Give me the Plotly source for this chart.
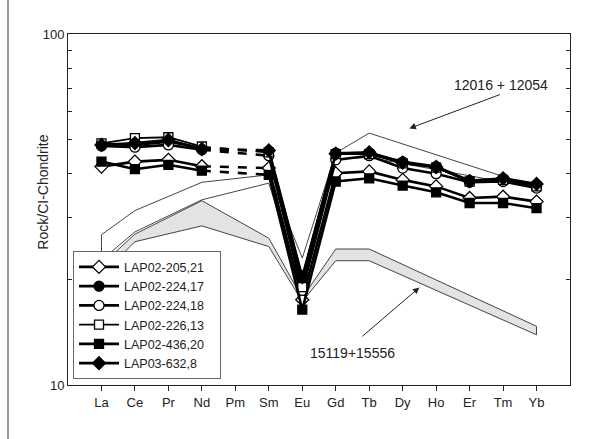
import plotly.graph_objects as go

elements = ["La", "Ce", "Pr", "Nd", "Pm", "Sm", "Eu", "Gd", "Tb", "Dy", "Ho", "Er", "Tm", "Yb"]

# Sample values (Rock / CI-chondrite); None = not determined (Pm)
s_205_21 = [41.9, 43.3, 43.8, 42.0, None, 41.5, 17.5, 40.1, 40.6, 38.4, 36.8, 34.1, 34.4, 33.3]
s_224_17 = [48.6, 48.3, 49.4, 47.3, None, 46.3, 20.0, 45.8, 45.8, 43.2, 41.9, 38.2, 38.6, 37.2]
s_224_18 = [48.0, 47.6, 48.3, 46.8, None, 45.0, 18.6, 43.8, 45.0, 41.5, 40.0, 37.8, 38.0, 36.4]
s_226_13 = [48.8, 50.5, 50.8, 47.8, None, 46.0, 19.0, 45.5, 45.5, 42.8, 41.6, 38.0, 38.4, 36.8]
s_436_20 = [43.3, 41.2, 42.4, 40.8, None, 39.7, 16.4, 38.0, 38.8, 37.0, 35.4, 33.0, 33.0, 31.9]
s_632_8 = [48.3, 48.9, 49.9, 47.0, None, 46.6, 20.3, 45.6, 46.0, 43.0, 41.8, 38.1, 38.8, 37.4]

series_names = ["LAP02-205,21", "LAP02-224,17", "LAP02-224,18", "LAP02-226,13", "LAP02-436,20", "LAP03-632,8"]
series_values = [s_205_21, s_224_17, s_224_18, s_226_13, s_436_20, s_632_8]

# Reference envelopes (elements where defined)
env_elements = ["La", "Ce", "Nd", "Sm", "Eu", "Gd", "Tb", "Yb"]
env12_upper = [26.8, 31.4, 37.8, 39.7, 23.0, 45.8, 52.2, 36.6]
env12_lower = [22.7, 27.3, 33.7, 37.6, 18.7, 44.0, 44.5, 36.4]
env15_upper = [22.0, 26.9, 33.5, 26.2, 17.7, 24.4, 24.4, 14.7]
env15_lower = [20.6, 25.6, 28.4, 24.8, 17.3, 22.6, 22.6, 13.9]

y_tick_vals = [10, 20, 30, 40, 50, 60, 70, 80, 90, 100]
y_tick_text = ["10", "", "", "", "", "", "", "", "", "100"]

FONT = "Liberation Sans, Arial, sans-serif"

idx = {e: i for i, e in enumerate(elements)}
env_x = [idx[e] for e in env_elements]
x_all = list(range(len(elements)))

fig = go.Figure()

# envelopes (closed polygons)
fig.add_trace(go.Scatter(
    x=env_x + env_x[::-1] + [env_x[0]],
    y=env12_upper + env12_lower[::-1] + [env12_upper[0]],
    mode="lines", fill="toself", fillcolor="rgba(255,255,255,0)",
    line=dict(color="#444444", width=1), showlegend=False, hoverinfo="skip"))
fig.add_trace(go.Scatter(
    x=env_x + env_x[::-1] + [env_x[0]],
    y=env15_upper + env15_lower[::-1] + [env15_upper[0]],
    mode="lines", fill="toself", fillcolor="#e3e3e3",
    line=dict(color="#444444", width=1), showlegend=False, hoverinfo="skip"))

styles = {
    "LAP02-205,21": dict(symbol="diamond", color="white", size=10, lw=2.6),
    "LAP02-224,17": dict(symbol="circle", color="black", size=10, lw=2.8),
    "LAP02-224,18": dict(symbol="circle", color="white", size=10, lw=2.6),
    "LAP02-226,13": dict(symbol="square", color="white", size=9, lw=1.8),
    "LAP02-436,20": dict(symbol="square", color="black", size=9, lw=2.6),
    "LAP03-632,8": dict(symbol="diamond", color="black", size=10, lw=2.6),
}

# dashed connectors across missing Pm
for name, vals in zip(series_names, series_values):
    st = styles[name]
    fig.add_trace(go.Scatter(
        x=[idx["Nd"], idx["Sm"]], y=[vals[idx["Nd"]], vals[idx["Sm"]]],
        mode="lines", line=dict(color="black", width=st["lw"], dash="dash"),
        showlegend=False, hoverinfo="skip"))

for name, vals in zip(series_names, series_values):
    st = styles[name]
    fig.add_trace(go.Scatter(
        x=x_all, y=vals, name=name + "\u00a0\u00a0\u00a0", mode="lines+markers",
        connectgaps=False,
        line=dict(color="black", width=st["lw"]),
        marker=dict(symbol=st["symbol"], size=st["size"], color=st["color"],
                    line=dict(color="black", width=1.3))))

# arrows + labels
fig.add_annotation(
    text="12016 + 12054", x=11.95, y=1.855, xref="x", yref="y",
    showarrow=False, font=dict(family=FONT, size=14, color="#222222"))
fig.add_annotation(
    x=9.2, y=1.731, ax=11.95, ay=1.829, xref="x", yref="y", axref="x", ayref="y",
    text="", showarrow=True, arrowhead=2, arrowsize=1.3, arrowwidth=1, arrowcolor="#222222")
fig.add_annotation(
    text="15119+15556", x=7.5, y=1.09, xref="x", yref="y",
    showarrow=False, font=dict(family=FONT, size=14, color="#222222"))
fig.add_annotation(
    x=9.5, y=1.278, ax=7.75, ay=1.135, xref="x", yref="y", axref="x", ayref="y",
    text="", showarrow=True, arrowhead=2, arrowsize=1.3, arrowwidth=1, arrowcolor="#222222")

# y-axis title
fig.add_annotation(
    text="Rock/CI-Chondrite", x=-0.0498, y=0.548, xref="paper", yref="paper",
    textangle=-90, showarrow=False, xanchor="center", yanchor="middle",
    font=dict(family=FONT, size=14, color="#222222"))

# outer frame (left edge visible)
fig.add_shape(type="line", xref="paper", yref="paper",
              x0=-0.1195, x1=-0.1195, y0=-0.16, y1=1.1,
              line=dict(color="#333333", width=1))

fig.update_layout(
    width=590, height=439,
    margin=dict(l=68, r=20, t=34, b=54, autoexpand=False),
    paper_bgcolor="white", plot_bgcolor="white",
    font=dict(family=FONT, size=13, color="#222222"),
    showlegend=True,
    legend=dict(x=0.01, y=0.381, xanchor="left", yanchor="top",
                bgcolor="white", bordercolor="#666666", borderwidth=1,
                font=dict(family=FONT, size=12.5, color="#222222"),
                tracegroupgap=0, itemwidth=40),
)
fig.update_xaxes(range=[-1, 14], tickmode="array", tickvals=x_all, ticktext=elements,
                 ticks="outside", ticklen=5, tickcolor="#222222",
                 showline=True, linecolor="#222222", linewidth=1, mirror=True,
                 showgrid=False, zeroline=False, automargin=False,
                 tickfont=dict(family=FONT, size=13))
fig.update_yaxes(type="log", range=[1, 2], tickmode="array", tickvals=y_tick_vals,
                 ticktext=y_tick_text, ticks="inside", ticklen=4, tickcolor="#222222",
                 showline=True, linecolor="#222222", linewidth=1, mirror="ticks",
                 showgrid=False, zeroline=False, automargin=False,
                 tickfont=dict(family=FONT, size=13))

fig.write_html("out.html", config={"displayModeBar": False},
               post_script="document.body.style.margin='0px';document.body.style.overflow='hidden';")
